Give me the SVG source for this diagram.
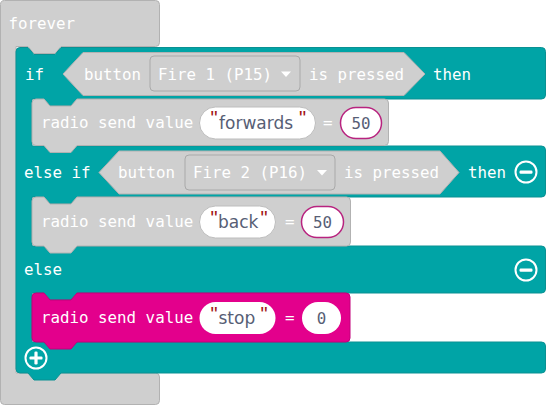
<svg xmlns="http://www.w3.org/2000/svg" width="546" height="406" viewBox="0 0 546 406">
<style>
.gray{fill:#cfcfcf;stroke:#b2b2b2;stroke-width:1}
.teal{fill:#00a4a6;stroke:#0a9193;stroke-width:1}
.pink{fill:#e3008c;stroke:#c2007a;stroke-width:1}
.dd{fill:#cfcfcf;stroke:#a9a9a9;stroke-width:1}
.pill{fill:#fff;stroke:#bdbdbd;stroke-width:1}
.num{fill:#fff;stroke:#b8237f;stroke-width:1.5}
.t{font-family:"DejaVu Sans Mono",monospace;font-size:15.8px;fill:#fff}
.s{font-family:"DejaVu Sans",sans-serif;font-size:17px;fill:#575e75}
.n{font-family:"DejaVu Sans Mono",monospace;font-size:15.8px;fill:#575e75}
.q{font-family:"Liberation Sans",sans-serif;font-size:20px;fill:#a31515}
.ic{fill:none;stroke:#fff;stroke-width:2}
.bar{fill:#fff}
</style>
<g id="forever">
<path class="gray" d="M0.5,4.5 a4,4 0 0 1 4,-4 H155.5 a4,4 0 0 1 4,4 V42.5 a4,4 0 0 1 -4,4 H61 l-6,7 h-21 l-6,-7 H16 V373 H155.5 a4,4 0 0 1 4,4 V400.5 a4,4 0 0 1 -4,4 H4.5 a4,4 0 0 1 -4,-4 Z"/>
<text class="t" x="8.5" y="29">forever</text>
</g>
<g id="if-block">
<path class="teal" d="M16,51.5 a4,4 0 0 1 4,-4 H28 l6,7 h21 l6,-7 H541.5 a4,4 0 0 1 4,4 V95 a4,4 0 0 1 -4,4 H77 l-6,7 h-21 l-6,-7 H32 V146 H541.5 a4,4 0 0 1 4,4 V193 a4,4 0 0 1 -4,4 H77 l-6,7 h-21 l-6,-7 H32 V246 H541.5 a4,4 0 0 1 4,4 V289 a4,4 0 0 1 -4,4 H77 l-6,7 h-21 l-6,-7 H32 V342 H541.5 a4,4 0 0 1 4,4 V369 a4,4 0 0 1 -4,4 H61 l-6,7 h-21 l-6,-7 H20 a4,4 0 0 1 -4,-4 Z"/>
<text class="t" x="25" y="80">if</text>
<text class="t" x="433" y="80">then</text>
<text class="t" x="24" y="178">else if</text>
<text class="t" x="468" y="178">then</text>
<text class="t" x="24" y="275">else</text>
</g>
<g id="condition-1">
<path class="gray" d="M63,74 L83,52.5 H404 L425,74 L404,95.5 H83 Z"/>
<text class="t" x="84" y="80">button</text>
<g id="dropdown-1">
<rect class="dd" x="150" y="56" width="150" height="35" rx="4"/>
<text class="t" x="158" y="80">Fire 1 (P15)</text>
<path class="bar" d="M281,71.5 H291 L286,77 Z"/>
</g>
<text class="t" x="309" y="80">is pressed</text>
</g>
<g id="send-forwards">
<path class="gray" d="M32,103 a4,4 0 0 1 4,-4 H44 l6,7 h21 l6,-7 H384.5 a4,4 0 0 1 4,4 V141.5 a4,4 0 0 1 -4,4 H77 l-6,7 h-21 l-6,-7 H36 a4,4 0 0 1 -4,-4 Z"/>
<text class="t" x="41" y="128">radio send value</text>
<rect class="pill" x="199.5" y="107" width="116" height="32" rx="16"/>
<text class="q" x="210.5" y="124.5">"</text>
<text class="s" x="219" y="128.5">forwards</text>
<text class="q" x="299" y="124.5">"</text>
<text class="t" x="323" y="128">=</text>
<rect class="num" x="340.5" y="107.5" width="41" height="31" rx="15.5"/>
<text class="n" x="361" y="128.5" text-anchor="middle">50</text>
</g>
<g id="condition-2">
<path class="gray" d="M99,172.5 L119,151 H440 L459,172.5 L440,194 H119 Z"/>
<text class="t" x="118" y="178">button</text>
<g id="dropdown-2">
<rect class="dd" x="185" y="155" width="150" height="35" rx="4"/>
<text class="t" x="193" y="178">Fire 2 (P16)</text>
<path class="bar" d="M317,170 H327 L322,175.5 Z"/>
</g>
<text class="t" x="344" y="178">is pressed</text>
</g>
<g id="minus-1">
<circle class="ic" cx="526" cy="172" r="10.5"/>
<rect class="bar" x="519.5" y="170.5" width="13" height="3.2" rx="1.2"/>
</g>
<g id="send-back">
<path class="gray" d="M32,201 a4,4 0 0 1 4,-4 H44 l6,7 h21 l6,-7 H346.5 a4,4 0 0 1 4,4 V242 a4,4 0 0 1 -4,4 H77 l-6,7 h-21 l-6,-7 H36 a4,4 0 0 1 -4,-4 Z"/>
<text class="t" x="41" y="227">radio send value</text>
<rect class="pill" x="199.5" y="206" width="76" height="32" rx="16"/>
<text class="q" x="210.5" y="224.5">"</text>
<text class="s" x="218" y="227.5">back</text>
<text class="q" x="260.5" y="224.5">"</text>
<text class="t" x="285" y="227">=</text>
<rect class="num" x="301.5" y="206.5" width="42" height="31" rx="15.5"/>
<text class="n" x="322.5" y="227.5" text-anchor="middle">50</text>
</g>
<g id="minus-2">
<circle class="ic" cx="526" cy="270" r="10.5"/>
<rect class="bar" x="519.5" y="268.5" width="13" height="3.2" rx="1.2"/>
</g>
<g id="send-stop">
<path class="pink" d="M32,297 a4,4 0 0 1 4,-4 H44 l6,7 h21 l6,-7 H346 a4,4 0 0 1 4,4 V338 a4,4 0 0 1 -4,4 H77 l-6,7 h-21 l-6,-7 H36 a4,4 0 0 1 -4,-4 Z"/>
<text class="t" x="41" y="323">radio send value</text>
<rect x="199.5" y="302" width="76" height="32" rx="16" fill="#fff"/>
<text class="q" x="210.5" y="321">"</text>
<text class="s" x="218.5" y="323.5">stop</text>
<text class="q" x="260.5" y="321">"</text>
<text class="t" x="285" y="323">=</text>
<rect x="302" y="302" width="39" height="32" rx="16" fill="#fff"/>
<text class="n" x="321.5" y="323.5" text-anchor="middle">0</text>
</g>
<g id="plus">
<circle class="ic" cx="36" cy="358" r="10.5"/>
<rect class="bar" x="29.5" y="356.4" width="13" height="3.2" rx="1.2"/>
<rect class="bar" x="34.4" y="351.5" width="3.2" height="13" rx="1.2"/>
</g>
<g id="connectors"/>
</svg>
